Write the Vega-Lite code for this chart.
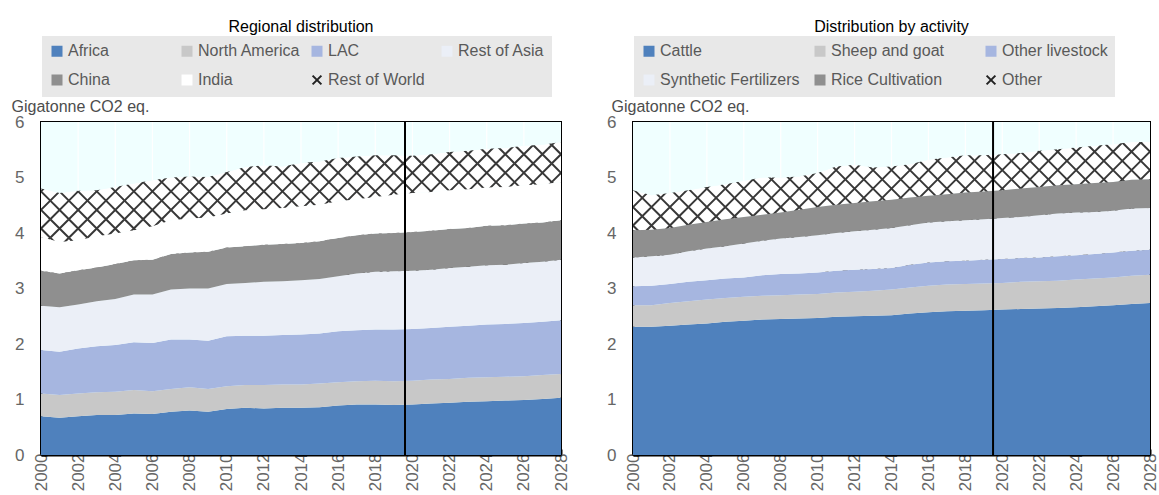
{
"$schema": "https://vega.github.io/schema/vega-lite/v6.json",
"background": "white",
"padding": {"left": 10, "top": 18, "right": 0, "bottom": 0},
"datasets": {
"reg": [
{"year":2000,"cat":"Africa","v":0.70},{"year":2000,"cat":"North America","v":0.41},{"year":2000,"cat":"LAC","v":0.78},{"year":2000,"cat":"Rest of Asia","v":0.80},{"year":2000,"cat":"China","v":0.63},{"year":2000,"cat":"India","v":0.61},{"year":2000,"cat":"Rest of World","v":0.87},
{"year":2001,"cat":"Africa","v":0.67},{"year":2001,"cat":"North America","v":0.41},{"year":2001,"cat":"LAC","v":0.78},{"year":2001,"cat":"Rest of Asia","v":0.80},{"year":2001,"cat":"China","v":0.61},{"year":2001,"cat":"India","v":0.57},{"year":2001,"cat":"Rest of World","v":0.88},
{"year":2002,"cat":"Africa","v":0.70},{"year":2002,"cat":"North America","v":0.41},{"year":2002,"cat":"LAC","v":0.81},{"year":2002,"cat":"Rest of Asia","v":0.79},{"year":2002,"cat":"China","v":0.62},{"year":2002,"cat":"India","v":0.54},{"year":2002,"cat":"Rest of World","v":0.89},
{"year":2003,"cat":"Africa","v":0.72},{"year":2003,"cat":"North America","v":0.41},{"year":2003,"cat":"LAC","v":0.83},{"year":2003,"cat":"Rest of Asia","v":0.81},{"year":2003,"cat":"China","v":0.61},{"year":2003,"cat":"India","v":0.56},{"year":2003,"cat":"Rest of World","v":0.83},
{"year":2004,"cat":"Africa","v":0.72},{"year":2004,"cat":"North America","v":0.42},{"year":2004,"cat":"LAC","v":0.84},{"year":2004,"cat":"Rest of Asia","v":0.83},{"year":2004,"cat":"China","v":0.63},{"year":2004,"cat":"India","v":0.55},{"year":2004,"cat":"Rest of World","v":0.84},
{"year":2005,"cat":"Africa","v":0.75},{"year":2005,"cat":"North America","v":0.42},{"year":2005,"cat":"LAC","v":0.86},{"year":2005,"cat":"Rest of Asia","v":0.86},{"year":2005,"cat":"China","v":0.62},{"year":2005,"cat":"India","v":0.54},{"year":2005,"cat":"Rest of World","v":0.84},
{"year":2006,"cat":"Africa","v":0.74},{"year":2006,"cat":"North America","v":0.41},{"year":2006,"cat":"LAC","v":0.87},{"year":2006,"cat":"Rest of Asia","v":0.87},{"year":2006,"cat":"China","v":0.63},{"year":2006,"cat":"India","v":0.60},{"year":2006,"cat":"Rest of World","v":0.83},
{"year":2007,"cat":"Africa","v":0.78},{"year":2007,"cat":"North America","v":0.41},{"year":2007,"cat":"LAC","v":0.89},{"year":2007,"cat":"Rest of Asia","v":0.90},{"year":2007,"cat":"China","v":0.64},{"year":2007,"cat":"India","v":0.61},{"year":2007,"cat":"Rest of World","v":0.77},
{"year":2008,"cat":"Africa","v":0.80},{"year":2008,"cat":"North America","v":0.42},{"year":2008,"cat":"LAC","v":0.86},{"year":2008,"cat":"Rest of Asia","v":0.92},{"year":2008,"cat":"China","v":0.65},{"year":2008,"cat":"India","v":0.61},{"year":2008,"cat":"Rest of World","v":0.76},
{"year":2009,"cat":"Africa","v":0.78},{"year":2009,"cat":"North America","v":0.41},{"year":2009,"cat":"LAC","v":0.87},{"year":2009,"cat":"Rest of Asia","v":0.94},{"year":2009,"cat":"China","v":0.66},{"year":2009,"cat":"India","v":0.62},{"year":2009,"cat":"Rest of World","v":0.73},
{"year":2010,"cat":"Africa","v":0.83},{"year":2010,"cat":"North America","v":0.41},{"year":2010,"cat":"LAC","v":0.90},{"year":2010,"cat":"Rest of Asia","v":0.94},{"year":2010,"cat":"China","v":0.66},{"year":2010,"cat":"India","v":0.61},{"year":2010,"cat":"Rest of World","v":0.75},
{"year":2011,"cat":"Africa","v":0.85},{"year":2011,"cat":"North America","v":0.41},{"year":2011,"cat":"LAC","v":0.89},{"year":2011,"cat":"Rest of Asia","v":0.95},{"year":2011,"cat":"China","v":0.66},{"year":2011,"cat":"India","v":0.65},{"year":2011,"cat":"Rest of World","v":0.78},
{"year":2012,"cat":"Africa","v":0.84},{"year":2012,"cat":"North America","v":0.42},{"year":2012,"cat":"LAC","v":0.89},{"year":2012,"cat":"Rest of Asia","v":0.97},{"year":2012,"cat":"China","v":0.67},{"year":2012,"cat":"India","v":0.64},{"year":2012,"cat":"Rest of World","v":0.79},
{"year":2013,"cat":"Africa","v":0.85},{"year":2013,"cat":"North America","v":0.42},{"year":2013,"cat":"LAC","v":0.89},{"year":2013,"cat":"Rest of Asia","v":0.97},{"year":2013,"cat":"China","v":0.67},{"year":2013,"cat":"India","v":0.65},{"year":2013,"cat":"Rest of World","v":0.75},
{"year":2014,"cat":"Africa","v":0.85},{"year":2014,"cat":"North America","v":0.42},{"year":2014,"cat":"LAC","v":0.90},{"year":2014,"cat":"Rest of Asia","v":0.98},{"year":2014,"cat":"China","v":0.67},{"year":2014,"cat":"India","v":0.66},{"year":2014,"cat":"Rest of World","v":0.78},
{"year":2015,"cat":"Africa","v":0.86},{"year":2015,"cat":"North America","v":0.43},{"year":2015,"cat":"LAC","v":0.90},{"year":2015,"cat":"Rest of Asia","v":0.98},{"year":2015,"cat":"China","v":0.68},{"year":2015,"cat":"India","v":0.66},{"year":2015,"cat":"Rest of World","v":0.78},
{"year":2016,"cat":"Africa","v":0.89},{"year":2016,"cat":"North America","v":0.42},{"year":2016,"cat":"LAC","v":0.92},{"year":2016,"cat":"Rest of Asia","v":0.99},{"year":2016,"cat":"China","v":0.69},{"year":2016,"cat":"India","v":0.66},{"year":2016,"cat":"Rest of World","v":0.78},
{"year":2017,"cat":"Africa","v":0.91},{"year":2017,"cat":"North America","v":0.42},{"year":2017,"cat":"LAC","v":0.92},{"year":2017,"cat":"Rest of Asia","v":1.02},{"year":2017,"cat":"China","v":0.69},{"year":2017,"cat":"India","v":0.65},{"year":2017,"cat":"Rest of World","v":0.77},
{"year":2018,"cat":"Africa","v":0.91},{"year":2018,"cat":"North America","v":0.43},{"year":2018,"cat":"LAC","v":0.92},{"year":2018,"cat":"Rest of Asia","v":1.04},{"year":2018,"cat":"China","v":0.69},{"year":2018,"cat":"India","v":0.66},{"year":2018,"cat":"Rest of World","v":0.75},
{"year":2019,"cat":"Africa","v":0.90},{"year":2019,"cat":"North America","v":0.43},{"year":2019,"cat":"LAC","v":0.93},{"year":2019,"cat":"Rest of Asia","v":1.05},{"year":2019,"cat":"China","v":0.69},{"year":2019,"cat":"India","v":0.69},{"year":2019,"cat":"Rest of World","v":0.71},
{"year":2020,"cat":"Africa","v":0.91},{"year":2020,"cat":"North America","v":0.43},{"year":2020,"cat":"LAC","v":0.93},{"year":2020,"cat":"Rest of Asia","v":1.05},{"year":2020,"cat":"China","v":0.70},{"year":2020,"cat":"India","v":0.70},{"year":2020,"cat":"Rest of World","v":0.67},
{"year":2021,"cat":"Africa","v":0.93},{"year":2021,"cat":"North America","v":0.43},{"year":2021,"cat":"LAC","v":0.93},{"year":2021,"cat":"Rest of Asia","v":1.05},{"year":2021,"cat":"China","v":0.70},{"year":2021,"cat":"India","v":0.70},{"year":2021,"cat":"Rest of World","v":0.68},
{"year":2022,"cat":"Africa","v":0.94},{"year":2022,"cat":"North America","v":0.43},{"year":2022,"cat":"LAC","v":0.94},{"year":2022,"cat":"Rest of Asia","v":1.06},{"year":2022,"cat":"China","v":0.70},{"year":2022,"cat":"India","v":0.70},{"year":2022,"cat":"Rest of World","v":0.69},
{"year":2023,"cat":"Africa","v":0.96},{"year":2023,"cat":"North America","v":0.43},{"year":2023,"cat":"LAC","v":0.94},{"year":2023,"cat":"Rest of Asia","v":1.06},{"year":2023,"cat":"China","v":0.70},{"year":2023,"cat":"India","v":0.70},{"year":2023,"cat":"Rest of World","v":0.69},
{"year":2024,"cat":"Africa","v":0.97},{"year":2024,"cat":"North America","v":0.43},{"year":2024,"cat":"LAC","v":0.95},{"year":2024,"cat":"Rest of Asia","v":1.07},{"year":2024,"cat":"China","v":0.71},{"year":2024,"cat":"India","v":0.69},{"year":2024,"cat":"Rest of World","v":0.70},
{"year":2025,"cat":"Africa","v":0.98},{"year":2025,"cat":"North America","v":0.43},{"year":2025,"cat":"LAC","v":0.95},{"year":2025,"cat":"Rest of Asia","v":1.07},{"year":2025,"cat":"China","v":0.71},{"year":2025,"cat":"India","v":0.69},{"year":2025,"cat":"Rest of World","v":0.70},
{"year":2026,"cat":"Africa","v":0.99},{"year":2026,"cat":"North America","v":0.43},{"year":2026,"cat":"LAC","v":0.96},{"year":2026,"cat":"Rest of Asia","v":1.08},{"year":2026,"cat":"China","v":0.71},{"year":2026,"cat":"India","v":0.69},{"year":2026,"cat":"Rest of World","v":0.71},
{"year":2027,"cat":"Africa","v":1.01},{"year":2027,"cat":"North America","v":0.43},{"year":2027,"cat":"LAC","v":0.96},{"year":2027,"cat":"Rest of Asia","v":1.08},{"year":2027,"cat":"China","v":0.71},{"year":2027,"cat":"India","v":0.69},{"year":2027,"cat":"Rest of World","v":0.71},
{"year":2028,"cat":"Africa","v":1.03},{"year":2028,"cat":"North America","v":0.43},{"year":2028,"cat":"LAC","v":0.97},{"year":2028,"cat":"Rest of Asia","v":1.09},{"year":2028,"cat":"China","v":0.71},{"year":2028,"cat":"India","v":0.69},{"year":2028,"cat":"Rest of World","v":0.72}
],
"act": [
{"year":2000,"cat":"Cattle","v":2.31},{"year":2000,"cat":"Sheep and goat","v":0.39},{"year":2000,"cat":"Other livestock","v":0.34},{"year":2000,"cat":"Synthetic Fertilizers","v":0.52},{"year":2000,"cat":"Rice Cultivation","v":0.49},{"year":2000,"cat":"Other","v":0.72},
{"year":2001,"cat":"Cattle","v":2.31},{"year":2001,"cat":"Sheep and goat","v":0.39},{"year":2001,"cat":"Other livestock","v":0.35},{"year":2001,"cat":"Synthetic Fertilizers","v":0.53},{"year":2001,"cat":"Rice Cultivation","v":0.48},{"year":2001,"cat":"Other","v":0.62},
{"year":2002,"cat":"Cattle","v":2.33},{"year":2002,"cat":"Sheep and goat","v":0.41},{"year":2002,"cat":"Other livestock","v":0.34},{"year":2002,"cat":"Synthetic Fertilizers","v":0.53},{"year":2002,"cat":"Rice Cultivation","v":0.48},{"year":2002,"cat":"Other","v":0.63},
{"year":2003,"cat":"Cattle","v":2.35},{"year":2003,"cat":"Sheep and goat","v":0.42},{"year":2003,"cat":"Other livestock","v":0.35},{"year":2003,"cat":"Synthetic Fertilizers","v":0.55},{"year":2003,"cat":"Rice Cultivation","v":0.48},{"year":2003,"cat":"Other","v":0.62},
{"year":2004,"cat":"Cattle","v":2.37},{"year":2004,"cat":"Sheep and goat","v":0.43},{"year":2004,"cat":"Other livestock","v":0.35},{"year":2004,"cat":"Synthetic Fertilizers","v":0.57},{"year":2004,"cat":"Rice Cultivation","v":0.48},{"year":2004,"cat":"Other","v":0.63},
{"year":2005,"cat":"Cattle","v":2.40},{"year":2005,"cat":"Sheep and goat","v":0.43},{"year":2005,"cat":"Other livestock","v":0.35},{"year":2005,"cat":"Synthetic Fertilizers","v":0.58},{"year":2005,"cat":"Rice Cultivation","v":0.49},{"year":2005,"cat":"Other","v":0.63},
{"year":2006,"cat":"Cattle","v":2.42},{"year":2006,"cat":"Sheep and goat","v":0.43},{"year":2006,"cat":"Other livestock","v":0.35},{"year":2006,"cat":"Synthetic Fertilizers","v":0.61},{"year":2006,"cat":"Rice Cultivation","v":0.48},{"year":2006,"cat":"Other","v":0.65},
{"year":2007,"cat":"Cattle","v":2.44},{"year":2007,"cat":"Sheep and goat","v":0.43},{"year":2007,"cat":"Other livestock","v":0.37},{"year":2007,"cat":"Synthetic Fertilizers","v":0.62},{"year":2007,"cat":"Rice Cultivation","v":0.47},{"year":2007,"cat":"Other","v":0.67},
{"year":2008,"cat":"Cattle","v":2.45},{"year":2008,"cat":"Sheep and goat","v":0.43},{"year":2008,"cat":"Other livestock","v":0.38},{"year":2008,"cat":"Synthetic Fertilizers","v":0.64},{"year":2008,"cat":"Rice Cultivation","v":0.47},{"year":2008,"cat":"Other","v":0.63},
{"year":2009,"cat":"Cattle","v":2.46},{"year":2009,"cat":"Sheep and goat","v":0.43},{"year":2009,"cat":"Other livestock","v":0.38},{"year":2009,"cat":"Synthetic Fertilizers","v":0.66},{"year":2009,"cat":"Rice Cultivation","v":0.49},{"year":2009,"cat":"Other","v":0.60},
{"year":2010,"cat":"Cattle","v":2.47},{"year":2010,"cat":"Sheep and goat","v":0.43},{"year":2010,"cat":"Other livestock","v":0.39},{"year":2010,"cat":"Synthetic Fertilizers","v":0.67},{"year":2010,"cat":"Rice Cultivation","v":0.51},{"year":2010,"cat":"Other","v":0.61},
{"year":2011,"cat":"Cattle","v":2.49},{"year":2011,"cat":"Sheep and goat","v":0.44},{"year":2011,"cat":"Other livestock","v":0.39},{"year":2011,"cat":"Synthetic Fertilizers","v":0.68},{"year":2011,"cat":"Rice Cultivation","v":0.51},{"year":2011,"cat":"Other","v":0.69},
{"year":2012,"cat":"Cattle","v":2.50},{"year":2012,"cat":"Sheep and goat","v":0.44},{"year":2012,"cat":"Other livestock","v":0.40},{"year":2012,"cat":"Synthetic Fertilizers","v":0.69},{"year":2012,"cat":"Rice Cultivation","v":0.51},{"year":2012,"cat":"Other","v":0.69},
{"year":2013,"cat":"Cattle","v":2.51},{"year":2013,"cat":"Sheep and goat","v":0.45},{"year":2013,"cat":"Other livestock","v":0.39},{"year":2013,"cat":"Synthetic Fertilizers","v":0.71},{"year":2013,"cat":"Rice Cultivation","v":0.51},{"year":2013,"cat":"Other","v":0.61},
{"year":2014,"cat":"Cattle","v":2.52},{"year":2014,"cat":"Sheep and goat","v":0.46},{"year":2014,"cat":"Other livestock","v":0.39},{"year":2014,"cat":"Synthetic Fertilizers","v":0.72},{"year":2014,"cat":"Rice Cultivation","v":0.51},{"year":2014,"cat":"Other","v":0.60},
{"year":2015,"cat":"Cattle","v":2.55},{"year":2015,"cat":"Sheep and goat","v":0.47},{"year":2015,"cat":"Other livestock","v":0.41},{"year":2015,"cat":"Synthetic Fertilizers","v":0.71},{"year":2015,"cat":"Rice Cultivation","v":0.50},{"year":2015,"cat":"Other","v":0.60},
{"year":2016,"cat":"Cattle","v":2.57},{"year":2016,"cat":"Sheep and goat","v":0.48},{"year":2016,"cat":"Other livestock","v":0.42},{"year":2016,"cat":"Synthetic Fertilizers","v":0.72},{"year":2016,"cat":"Rice Cultivation","v":0.48},{"year":2016,"cat":"Other","v":0.65},
{"year":2017,"cat":"Cattle","v":2.59},{"year":2017,"cat":"Sheep and goat","v":0.48},{"year":2017,"cat":"Other livestock","v":0.42},{"year":2017,"cat":"Synthetic Fertilizers","v":0.72},{"year":2017,"cat":"Rice Cultivation","v":0.49},{"year":2017,"cat":"Other","v":0.66},
{"year":2018,"cat":"Cattle","v":2.60},{"year":2018,"cat":"Sheep and goat","v":0.48},{"year":2018,"cat":"Other livestock","v":0.42},{"year":2018,"cat":"Synthetic Fertilizers","v":0.73},{"year":2018,"cat":"Rice Cultivation","v":0.50},{"year":2018,"cat":"Other","v":0.67},
{"year":2019,"cat":"Cattle","v":2.61},{"year":2019,"cat":"Sheep and goat","v":0.48},{"year":2019,"cat":"Other livestock","v":0.43},{"year":2019,"cat":"Synthetic Fertilizers","v":0.73},{"year":2019,"cat":"Rice Cultivation","v":0.50},{"year":2019,"cat":"Other","v":0.65},
{"year":2020,"cat":"Cattle","v":2.62},{"year":2020,"cat":"Sheep and goat","v":0.48},{"year":2020,"cat":"Other livestock","v":0.43},{"year":2020,"cat":"Synthetic Fertilizers","v":0.74},{"year":2020,"cat":"Rice Cultivation","v":0.50},{"year":2020,"cat":"Other","v":0.65},
{"year":2021,"cat":"Cattle","v":2.63},{"year":2021,"cat":"Sheep and goat","v":0.49},{"year":2021,"cat":"Other livestock","v":0.43},{"year":2021,"cat":"Synthetic Fertilizers","v":0.74},{"year":2021,"cat":"Rice Cultivation","v":0.51},{"year":2021,"cat":"Other","v":0.64},
{"year":2022,"cat":"Cattle","v":2.64},{"year":2022,"cat":"Sheep and goat","v":0.49},{"year":2022,"cat":"Other livestock","v":0.43},{"year":2022,"cat":"Synthetic Fertilizers","v":0.76},{"year":2022,"cat":"Rice Cultivation","v":0.51},{"year":2022,"cat":"Other","v":0.65},
{"year":2023,"cat":"Cattle","v":2.65},{"year":2023,"cat":"Sheep and goat","v":0.49},{"year":2023,"cat":"Other livestock","v":0.44},{"year":2023,"cat":"Synthetic Fertilizers","v":0.77},{"year":2023,"cat":"Rice Cultivation","v":0.51},{"year":2023,"cat":"Other","v":0.65},
{"year":2024,"cat":"Cattle","v":2.66},{"year":2024,"cat":"Sheep and goat","v":0.50},{"year":2024,"cat":"Other livestock","v":0.44},{"year":2024,"cat":"Synthetic Fertilizers","v":0.77},{"year":2024,"cat":"Rice Cultivation","v":0.51},{"year":2024,"cat":"Other","v":0.66},
{"year":2025,"cat":"Cattle","v":2.68},{"year":2025,"cat":"Sheep and goat","v":0.50},{"year":2025,"cat":"Other livestock","v":0.44},{"year":2025,"cat":"Synthetic Fertilizers","v":0.76},{"year":2025,"cat":"Rice Cultivation","v":0.52},{"year":2025,"cat":"Other","v":0.67},
{"year":2026,"cat":"Cattle","v":2.70},{"year":2026,"cat":"Sheep and goat","v":0.50},{"year":2026,"cat":"Other livestock","v":0.45},{"year":2026,"cat":"Synthetic Fertilizers","v":0.75},{"year":2026,"cat":"Rice Cultivation","v":0.52},{"year":2026,"cat":"Other","v":0.68},
{"year":2027,"cat":"Cattle","v":2.72},{"year":2027,"cat":"Sheep and goat","v":0.51},{"year":2027,"cat":"Other livestock","v":0.45},{"year":2027,"cat":"Synthetic Fertilizers","v":0.76},{"year":2027,"cat":"Rice Cultivation","v":0.52},{"year":2027,"cat":"Other","v":0.68},
{"year":2028,"cat":"Cattle","v":2.74},{"year":2028,"cat":"Sheep and goat","v":0.51},{"year":2028,"cat":"Other livestock","v":0.45},{"year":2028,"cat":"Synthetic Fertilizers","v":0.75},{"year":2028,"cat":"Rice Cultivation","v":0.52},{"year":2028,"cat":"Other","v":0.67}
]
},
"spacing": 35,
"resolve": {"scale": {"color": "independent"}, "legend": {"color": "independent"}},
"hconcat": [
{
"width": 520, "height": 333,
"title": {"text": "Regional distribution"},
"data": {"name": "reg"},
"transform": [{"stack": "v", "groupby": ["year"], "as": ["v0", "v1"]}],
"layer": [
{"transform": [{"filter": "datum.cat === 'Rest of World'"}],
 "mark": {"type": "area", "fill": "#ffffff"},
 "encoding": {
  "x": {"field": "year", "type": "quantitative", "scale": {"domain": [2000, 2028], "nice": false, "zero": false}, "title": null, "axis": {"tickCount": 14, "format": "d", "labelOverlap": false, "labelFlush": false}},
  "y": {"field": "v1", "type": "quantitative", "scale": {"domain": [0, 6], "nice": false}, "title": "Gigatonne CO2 eq.", "axis": {"values": [0, 1, 2, 3, 4, 5, 6], "format": "d", "titleX": -30, "titleY": -11}},
  "y2": {"field": "v0"}}},
{"transform": [{"filter": "datum.cat === 'Rest of World'"}],
 "mark": {"type": "point", "shape": "M-1,-9L1,-7M-1,-7L1,-9M-1,-7L1,-5M-1,-5L1,-7M-1,-5L1,-3M-1,-3L1,-5M-1,-3L1,-1M-1,-1L1,-3M-1,-1L1,1M-1,1L1,-1M-1,1L1,3M-1,3L1,1M-1,3L1,5M-1,5L1,3M-1,5L1,7M-1,7L1,5M-1,7L1,9M-1,9L1,7", "size": 345, "filled": false, "stroke": "#383838", "strokeWidth": 2, "opacity": 1, "clip": true},
 "encoding": {
  "x": {"field": "year", "type": "quantitative", "title": null},
  "y": {"datum": 4.75, "title": "Gigatonne CO2 eq."}}},
{"transform": [{"filter": "datum.cat !== 'Rest of World'"}],
 "mark": {"type": "area"},
 "encoding": {
  "x": {"field": "year", "type": "quantitative", "title": null},
  "y": {"field": "v1", "type": "quantitative", "title": "Gigatonne CO2 eq."},
  "y2": {"field": "v0"},
  "color": {"field": "cat", "type": "nominal",
   "scale": {"domain": ["Africa", "North America", "LAC", "Rest of Asia", "China", "India", "Rest of World"], "range": ["#4f81bd", "#c8c8c8", "#a6b6e0", "#ebeff7", "#8f8f8f", "#ffffff", "#ffffff"]},
   "legend": {"orient": "none", "legendX": 1, "legendY": -86, "columns": 4, "direction": "horizontal", "columnPadding": 6,
    "encode": {"symbols": {"update": {"shape": {"signal": "datum.value === 'Rest of World' ? 'M-0.8,-0.8L0.8,0.8M-0.8,0.8L0.8,-0.8' : 'square'"}, "stroke": {"signal": "datum.value === 'Rest of World' ? '#222222' : 'transparent'"}, "strokeWidth": {"value": 2}}}}}}}},
{"transform": [{"filter": "datum.cat === 'Rest of World'"}],
 "mark": {"type": "area", "fill": "#f0ffff"},
 "encoding": {
  "x": {"field": "year", "type": "quantitative", "title": null},
  "y": {"field": "v1", "type": "quantitative", "title": "Gigatonne CO2 eq."},
  "y2": {"datum": 6}}},
{"transform": [{"filter": "datum.cat === 'Rest of World' && datum.year % 2 === 0 && datum.year > 2000 && datum.year < 2028"}],
 "mark": {"type": "rule", "color": "#ffffff", "strokeWidth": 1.2},
 "encoding": {
  "x": {"field": "year", "type": "quantitative", "title": null},
  "y": {"field": "v1", "type": "quantitative", "title": "Gigatonne CO2 eq."},
  "y2": {"datum": 6}}},
{"data": {"values": [{}]},
 "mark": {"type": "rule", "color": "#000000", "strokeWidth": 2},
 "encoding": {"x": {"datum": 2019.6}}}
]
},
{
"width": 517, "height": 333,
"title": {"text": "Distribution by activity"},
"data": {"name": "act"},
"transform": [{"stack": "v", "groupby": ["year"], "as": ["v0", "v1"]}],
"layer": [
{"transform": [{"filter": "datum.cat === 'Other'"}],
 "mark": {"type": "area", "fill": "#ffffff"},
 "encoding": {
  "x": {"field": "year", "type": "quantitative", "scale": {"domain": [2000, 2028], "nice": false, "zero": false}, "title": null, "axis": {"tickCount": 14, "format": "d", "labelOverlap": false, "labelFlush": false}},
  "y": {"field": "v1", "type": "quantitative", "scale": {"domain": [0, 6], "nice": false}, "title": "Gigatonne CO2 eq.", "axis": {"values": [0, 1, 2, 3, 4, 5, 6], "format": "d", "titleX": -22, "titleY": -11}},
  "y2": {"field": "v0"}}},
{"transform": [{"filter": "datum.cat === 'Other'"}],
 "mark": {"type": "point", "shape": "M-1,-9L1,-7M-1,-7L1,-9M-1,-7L1,-5M-1,-5L1,-7M-1,-5L1,-3M-1,-3L1,-5M-1,-3L1,-1M-1,-1L1,-3M-1,-1L1,1M-1,1L1,-1M-1,1L1,3M-1,3L1,1M-1,3L1,5M-1,5L1,3M-1,5L1,7M-1,7L1,5M-1,7L1,9M-1,9L1,7", "size": 341, "filled": false, "stroke": "#383838", "strokeWidth": 2, "opacity": 1, "clip": true},
 "encoding": {
  "x": {"field": "year", "type": "quantitative", "title": null},
  "y": {"datum": 4.8, "title": "Gigatonne CO2 eq."}}},
{"transform": [{"filter": "datum.cat !== 'Other'"}],
 "mark": {"type": "area"},
 "encoding": {
  "x": {"field": "year", "type": "quantitative", "title": null},
  "y": {"field": "v1", "type": "quantitative", "title": "Gigatonne CO2 eq."},
  "y2": {"field": "v0"},
  "color": {"field": "cat", "type": "nominal",
   "scale": {"domain": ["Cattle", "Sheep and goat", "Other livestock", "Synthetic Fertilizers", "Rice Cultivation", "Other"], "range": ["#4f81bd", "#c8c8c8", "#a6b6e0", "#ebeff7", "#8f8f8f", "#ffffff"]},
   "legend": {"orient": "none", "legendX": 1, "legendY": -86, "columns": 3, "direction": "horizontal", "columnPadding": 10,
    "encode": {"symbols": {"update": {"shape": {"signal": "datum.value === 'Other' ? 'M-0.8,-0.8L0.8,0.8M-0.8,0.8L0.8,-0.8' : 'square'"}, "stroke": {"signal": "datum.value === 'Other' ? '#222222' : 'transparent'"}, "strokeWidth": {"value": 2}}}}}}}},
{"transform": [{"filter": "datum.cat === 'Other'"}],
 "mark": {"type": "area", "fill": "#f0ffff"},
 "encoding": {
  "x": {"field": "year", "type": "quantitative", "title": null},
  "y": {"field": "v1", "type": "quantitative", "title": "Gigatonne CO2 eq."},
  "y2": {"datum": 6}}},
{"transform": [{"filter": "datum.cat === 'Other' && datum.year % 2 === 0 && datum.year > 2000 && datum.year < 2028"}],
 "mark": {"type": "rule", "color": "#ffffff", "strokeWidth": 1.2},
 "encoding": {
  "x": {"field": "year", "type": "quantitative", "title": null},
  "y": {"field": "v1", "type": "quantitative", "title": "Gigatonne CO2 eq."},
  "y2": {"datum": 6}}},
{"data": {"values": [{}]},
 "mark": {"type": "rule", "color": "#000000", "strokeWidth": 2},
 "encoding": {"x": {"datum": 2019.5}}}
]
}
],
"config": {
 "font": "Liberation Sans, Arial, sans-serif",
 "view": {"fill": "#f0ffff", "stroke": "#000000", "strokeWidth": 2},
 "axis": {"labelFont": "Liberation Sans, Arial, sans-serif", "labelFontSize": 17, "labelColor": "#666666", "domainColor": "#000000", "domainWidth": 2, "tickColor": "#000000", "tickWidth": 2, "tickSize": -6, "grid": false, "labelFlush": false, "labelOverlap": false},
 "axisX": {"labelAngle": -90, "labelPadding": 4},
 "axisY": {"labelPadding": 23, "titleAngle": 0, "titleAlign": "left", "titleBaseline": "alphabetic", "titleFont": "Liberation Sans, Arial, sans-serif", "titleFontSize": 16, "titleFontWeight": "normal", "titleColor": "#4d4d4d"},
 "legend": {"title": null, "fillColor": "#e8e8e8", "padding": 7, "symbolType": "square", "symbolSize": 121, "symbolStrokeWidth": 0, "labelFont": "Liberation Sans, Arial, sans-serif", "labelFontSize": 16, "labelColor": "#595959", "rowPadding": 9, "gridAlign": "all", "labelLimit": 400, "labelOffset": 3},
 "title": {"font": "Liberation Sans, Arial, sans-serif", "fontSize": 16, "fontWeight": "normal", "color": "#000000", "anchor": "middle", "frame": "group", "offset": 1}
}
}
